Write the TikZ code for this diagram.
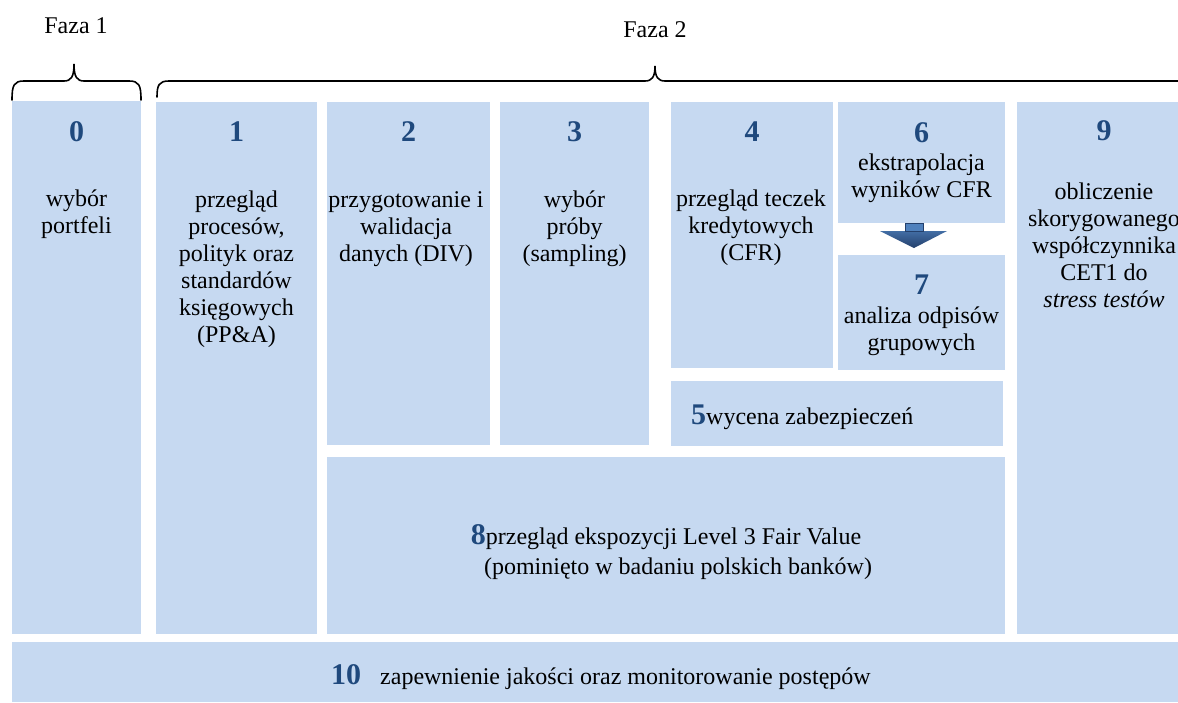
\documentclass[tikz,border=0pt]{standalone}
\usepackage{fontspec}
\setmainfont{Liberation Serif}[BoldFont={Liberation Serif Bold},ItalicFont={Liberation Serif Italic}]
\definecolor{boxblue}{HTML}{C6D9F1}
\definecolor{numblue}{HTML}{1F497D}
\definecolor{arrdark}{HTML}{24406C}
\definecolor{arrlight}{HTML}{4F81BD}
\newcommand{\krok}[1]{{\color{numblue}\fontsize{30}{30}\selectfont\bfseries #1}}

\begin{document}
\begin{tikzpicture}[x=1pt,y=-1pt,
  box/.style={fill=boxblue},
  num/.style={text=numblue,font=\rmfamily\fontsize{30}{30}\selectfont\bfseries,inner sep=0pt},
  txt/.style={align=center,font=\rmfamily\fontsize{24}{27}\selectfont,inner sep=0pt},
  brace/.style={line width=1.6pt,line cap=round}]
\useasboundingbox (0,0) rectangle (1178,702);
\clip (0,0) rectangle (1178,702);
% fazy
\node[txt] (f1) at (76,26) {Faza 1};
\node[txt] (f2) at (655,30) {Faza 2};
\draw[brace] (12,100) .. controls (12,85) and (14,81) .. (24,81) -- (64,81) .. controls (71,81) and (74,77) .. (74,64) .. controls (74,77) and (77,81) .. (84,81) -- (129,81) .. controls (139,81) and (141,85) .. (141,100);
\draw[brace] (157,97) .. controls (157,85) and (159,81) .. (169,81) -- (645,81) .. controls (652,81) and (655,77) .. (655,66) .. controls (655,77) and (658,81) .. (665,81) -- (1185,81);
% kolumny
\fill[box] (12,101) rectangle (141,634); \node[num] (n0) at (76.5,132) {0};
\node[txt] (t0) at (76.5,214) {wybór\\portfeli};
\fill[box] (156,102) rectangle (317,634); \node[num] (n1) at (236.5,132) {1};
\node[txt] (t1) at (236.5,269) {przegląd\\procesów,\\polityk oraz\\standardów\\księgowych\\(PP\&A)};
\fill[box] (327,102) rectangle (490,445); \node[num] (n2) at (408.5,132) {2};
\node[txt] (t2) at (406,229) {przygotowanie i\\walidacja\\danych (DIV)};
\fill[box] (500,102) rectangle (649,445); \node[num] (n3) at (574.5,132) {3};
\node[txt] (t3) at (574.5,229) {wybór\\próby\\(sampling)};
\fill[box] (671,102) rectangle (833,368); \node[num] (n4) at (752,132) {4};
\node[txt] (t4) at (751,228) {przegląd teczek\\kredytowych\\(CFR)};
\fill[box] (838,102) rectangle (1005,223); \node[num] (n6) at (921.5,133) {6};
\node[txt] (t6) at (921.5,178) {ekstrapolacja\\wyników CFR};
\fill[box] (838,255) rectangle (1005,370); \node[num] (n7) at (921.5,285) {7};
\node[txt] (t7) at (921.5,331) {analiza odpisów\\grupowych};
\fill[box] (671,381) rectangle (1003,446);
\node[txt,anchor=base west] (t5) at (691,424) {\krok{5}wycena zabezpieczeń};
\fill[box] (327,457) rectangle (1005,634);
\node[txt,font=\rmfamily\fontsize{24}{30}\selectfont] (t8) at (666,552) {\krok{8}przegląd ekspozycji Level 3 Fair Value\\\hspace*{24pt}(pominięto w badaniu polskich banków)};
\fill[box] (1017,102) rectangle (1191,634); \node[num] (n9) at (1104,131) {9};
\node[txt] (t9) at (1104,245) {obliczenie\\skorygowanego\\współczynnika\\CET1 do\\\textit{stress testów}};
\fill[box] (12,642) rectangle (1190,702);
\node[txt,anchor=base west] (t10) at (331,684) {\krok{10}\hspace{19pt}zapewnienie jakości oraz monitorowanie postępów};
% strzalka 6 -> 7
\shade[top color=arrlight!70!arrdark,bottom color=arrdark] (880,231) -- (947,231) -- (914,248) -- cycle;
\filldraw[fill=arrlight,draw=arrdark,line width=0.8pt] (905,223) rectangle (923,231);
\end{tikzpicture}
\end{document}
